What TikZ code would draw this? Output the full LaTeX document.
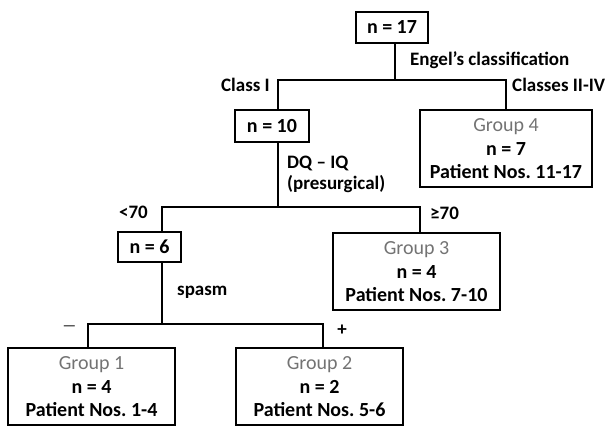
\documentclass[tikz,border=0pt]{standalone}
\usepackage{fontspec}
\setmainfont{Carlito}
\frenchspacing
\begin{document}
\begin{tikzpicture}[x=1pt,y=-1pt,
  font=\fontsize{20}{22}\selectfont\bfseries,
  nbox/.style={draw,line width=1.6pt,inner sep=0pt,minimum height=31pt,anchor=center},
  gbox/.style={draw,line width=1.6pt,inner sep=0pt,minimum width=168pt,minimum height=77pt,align=center},
  conn/.style={line width=1.8pt},
  lab/.style={inner sep=0pt,font=\fontsize{19}{21}\selectfont\bfseries}]
\useasboundingbox (0,0) rectangle (607,427);
% count boxes
\node[nbox,minimum width=72pt] (n17) at (392,27.5) {n = 17};
\node[nbox,minimum width=74pt,minimum height=32pt] (n10) at (272,126) {n = 10};
\node[nbox,minimum width=63pt,minimum height=30pt] (n6) at (149.5,247) {n = 6};
% group boxes
\node[gbox,minimum width=172pt] (g4) at (506,148.5) {{\color{black!55}\mdseries Group 4}\\[2pt] n = 7\\[1pt] Patient Nos. 11-17};
\node[gbox,minimum width=167pt] (g3) at (416.5,271.5) {{\color{black!55}\mdseries Group 3}\\[2pt] n = 4\\[1pt] Patient Nos. 7-10};
\node[gbox,minimum width=167pt] (g1) at (91.5,386.5) {{\color{black!55}\mdseries Group 1}\\[2pt] n = 4\\[1pt] Patient Nos. 1-4};
\node[gbox,minimum width=167pt] (g2) at (319.5,386.5) {{\color{black!55}\mdseries Group 2}\\[2pt] n = 2\\[1pt] Patient Nos. 5-6};
% junctions
\coordinate (j1) at (395,80);
\coordinate (j2) at (278,207);
\coordinate (j3) at (162,324);
% connectors
\draw[conn] ([xshift=3pt]n17.south) -- (j1);
\draw[conn] ([xshift=6pt]n10.north) |- (j1) -| (g4.north);
\draw[conn] ([xshift=6pt]n10.south) -- (j2);
\draw[conn] ([xshift=12.5pt]n6.north) |- (j2) -| ([xshift=3.5pt]g3.north);
\draw[conn] ([xshift=12.5pt]n6.south) -- (j3);
\draw[conn] ([xshift=-3.5pt]g1.north) |- (j3) -| ([xshift=3.5pt]g2.north);
% labels
\node[lab,anchor=west] (engel) at (410,60) {Engel’s classification};
\node[lab,anchor=east] (c1) at (270,85) {Class I};
\node[lab,anchor=west] (c2) at (512,85) {Classes II-IV};
\node[lab,anchor=north west,align=left] (dq) at (287,156) {DQ – IQ\\(presurgical)};
\node[lab,anchor=east] (lt) at (148,212) {<70};
\node[lab,anchor=west] (ge) at (430,213) {≥70};
\node[lab,anchor=west] (sp) at (177,292) {spasm};
\node[lab] (mi) at (69.5,328) {\fontsize{15}{15}\selectfont\mdseries —};
\node[lab] (pl) at (342,330) {+};
\end{tikzpicture}
\end{document}
